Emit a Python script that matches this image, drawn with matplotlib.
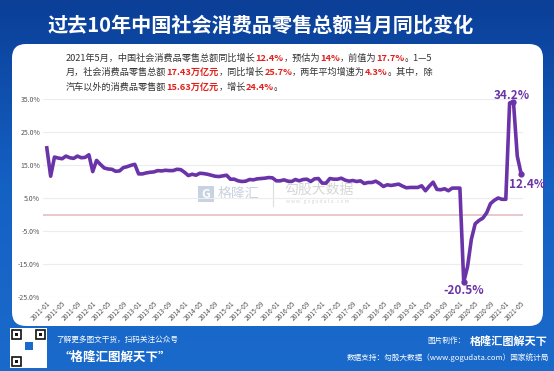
import matplotlib.pyplot as plt
import numpy as np
from matplotlib.patches import FancyBboxPatch, Rectangle
from matplotlib.offsetbox import TextArea, HPacker, AnnotationBbox

plt.rcParams['font.family'] = ['Noto Sans CJK SC', 'DejaVu Sans']

# monthly YoY growth (%), 2011-01 .. 2021-05
yoy_2011 = [20.2, 11.6, 17.4, 17.1, 16.9, 17.7, 17.2, 17.0, 17.7, 17.2, 17.3, 18.1]
yoy_2012 = [13.0, 16.4, 15.2, 14.1, 13.8, 13.7, 13.1, 13.2, 14.2, 14.5, 14.9, 15.2]
yoy_2013 = [12.3, 12.3, 12.6, 12.8, 12.9, 13.3, 13.2, 13.4, 13.3, 13.3, 13.7, 13.6]
yoy_2014 = [12.8, 11.8, 12.2, 11.9, 12.5, 12.4, 12.2, 11.9, 11.6, 11.5, 11.7, 11.9]
yoy_2015 = [10.7, 10.7, 10.2, 10.0, 10.1, 10.6, 10.5, 10.8, 10.9, 11.0, 11.2, 11.1]
yoy_2016 = [10.2, 10.2, 10.5, 10.1, 10.0, 10.6, 10.2, 10.6, 10.7, 10.0, 10.8, 10.9]
yoy_2017 = [9.5, 9.5, 10.9, 10.7, 10.7, 11.0, 10.4, 10.1, 10.3, 10.0, 10.2, 9.4]
yoy_2018 = [9.7, 9.7, 10.1, 9.4, 8.5, 9.0, 8.8, 9.0, 9.2, 8.6, 8.1, 8.2]
yoy_2019 = [8.2, 8.2, 8.7, 7.2, 8.6, 9.8, 7.6, 7.5, 7.8, 7.2, 8.0, 8.0]
yoy_2020 = [8.0, -20.5, -15.8, -7.5, -2.8, -1.8, -1.1, 0.5, 3.3, 4.3, 5.0, 4.6]
yoy_2021 = [4.6, 33.8, 34.2, 17.7, 12.4]

values = (yoy_2011 + yoy_2012 + yoy_2013 + yoy_2014 + yoy_2015 + yoy_2016
          + yoy_2017 + yoy_2018 + yoy_2019 + yoy_2020 + yoy_2021)
months = [f"{2011 + i // 12}-{i % 12 + 1:02d}" for i in range(len(values))]
yticks = [35, 25, 15, 5, -5, -15, -25]

title = "过去10年中国社会消费品零售总额当月同比变化"
summary = [
    [("2021年5月，中国社会消费品零售总额同比增长", 0), ("12.4%", 1), ("，预估为", 0),
     ("14%", 1), ("，前值为", 0), ("17.7%", 1), ("。1—5", 0)],
    [("月，社会消费品零售总额", 0), ("17.43万亿元", 1), ("，同比增长", 0), ("25.7%", 1),
     ("，两年平均增速为", 0), ("4.3%", 1), ("。其中，除", 0)],
    [("汽车以外的消费品零售额", 0), ("15.63万亿元", 1), ("，增长", 0), ("24.4%", 1), ("。", 0)],
]

W, H = 554, 371
purple = "#6a33a8"
fig = plt.figure(figsize=(W / 100, H / 100), dpi=100)

# background in pixel coordinates
bg = fig.add_axes([0, 0, 1, 1])
bg.set_xlim(0, W)
bg.set_ylim(H, 0)
bg.axis("off")
grad = np.linspace(0, 1, 100).reshape(-1, 1)
bg.imshow(grad, extent=[0, W, H, 0], cmap=plt.matplotlib.colors.LinearSegmentedColormap.from_list(
    "b", ["#0b3f98", "#1461c4", "#1a6acb"]), aspect="auto", zorder=0)
bg.add_patch(FancyBboxPatch((12, 44), 531, 282, boxstyle="round,pad=0,rounding_size=14",
                            fc="white", ec="none", zorder=1))
bg.text(W / 2 - 16, 25, title, color="white", fontsize=14.5, fontweight="bold",
        ha="center", va="center", zorder=2)

for i, line in enumerate(summary):
    parts = []
    for txt, hi in line:
        if hi:
            props = dict(color="#e0201c", fontsize=6.6, fontstyle="italic", fontweight="bold")
        else:
            props = dict(color="#333333", fontsize=6.6)
        parts.append(TextArea(txt, textprops=props))
    box = HPacker(children=parts, align="baseline", pad=0, sep=0)
    bg.add_artist(AnnotationBbox(box, (66, 58 + i * 14.5), xycoords="data",
                                 box_alignment=(0, 0.5), frameon=False, zorder=3))

# watermarks
bg.add_patch(Rectangle((198, 186), 16, 16, fc="#c9d2e0", ec="none", zorder=2))
bg.text(206, 194, "G", color="white", fontsize=9, fontweight="bold", ha="center", va="center", zorder=2)
bg.text(218, 194, "格隆汇", color="#c9d2e0", fontsize=10, ha="left", va="center", zorder=2)
bg.plot([273, 273], [182, 206], color="#dddddd", lw=0.8, zorder=2)
bg.text(284, 190, "勾股大数据", color="#d6d6d6", fontsize=10, ha="left", va="center", zorder=2)
bg.text(286, 201, "w w w . g o g u d a t a . c o m", color="#d6d6d6", fontsize=3.5,
        ha="left", va="center", zorder=2)

# footer
bg.add_patch(Rectangle((10, 328), 37, 40, fc="white", ec="none", zorder=2))
for (qx, qy) in [(12, 330), (36, 330), (12, 357)]:
    bg.add_patch(Rectangle((qx, qy), 9, 9, fc="none", ec="#111111", lw=1.2, zorder=3))
    bg.add_patch(Rectangle((qx + 3, qy + 3), 3, 3, fc="#111111", ec="none", zorder=3))
bg.add_patch(Rectangle((25, 342), 8, 8, fc="#1a6acb", ec="none", zorder=3))
bg.text(56, 340, "了解更多图文干货，扫码关注公众号", color="white", fontsize=5.5,
        fontstyle="italic", va="center", zorder=2)
bg.text(58, 357, "“格隆汇图解天下”", color="white", fontsize=9, fontweight="bold",
        va="center", zorder=2)
bg.text(548, 341, "格隆汇图解天下", color="white", fontsize=8, fontweight="bold",
        ha="right", va="center", zorder=2)
bg.text(466, 341, "图片制作：", color="white", fontsize=5.5, ha="right", va="center", zorder=2)
bg.text(549, 358, "数据支持：勾股大数据（www.gogudata.com）国家统计局", color="white",
        fontsize=5.5, ha="right", va="center", zorder=2)

# main chart
ax = fig.add_axes([43 / W, 1 - 297 / H, (523 - 43) / W, (297 - 99) / H])
ax.patch.set_alpha(0)
x = np.arange(len(values))
ax.set_xlim(-1, len(values) - 0.5)
ax.set_ylim(-25, 35)
for yv in yticks:
    ax.axhline(yv, color="#ececec", lw=0.8, zorder=1)
ax.axhline(0, color="#e6c4c8", lw=1.3, zorder=1)
ax.plot(x, values, color=purple, lw=2.6, solid_joinstyle="round", zorder=3, clip_on=False)

for idx, dx, dy, ha, va in [(122, -1, 0, "center", "bottom"), (124, 4, -3, "center", "top"),
                            (109, 0, -1, "center", "top")]:
    ax.plot(x[idx], values[idx], "o", color=purple, ms=3.5, zorder=4, clip_on=False)
    ax.annotate(f"{values[idx]:.1f}%", (x[idx], values[idx]), xytext=(dx, dy),
                textcoords="offset points", ha=ha, va=va, color=purple,
                fontsize=8.5, fontweight="bold", annotation_clip=False)

ax.set_yticks(yticks)
ax.set_yticklabels([f"{v:.1f}%" for v in yticks], fontsize=5, color="#555555")
ax.set_xticks(x[::4])
ax.set_xticklabels(months[::4], rotation=45, ha="right", rotation_mode="anchor",
                   fontsize=4.8, color="#555555")
ax.tick_params(length=0, pad=2)
for s in ax.spines.values():
    s.set_visible(False)

fig.savefig("out.png", dpi=100)
